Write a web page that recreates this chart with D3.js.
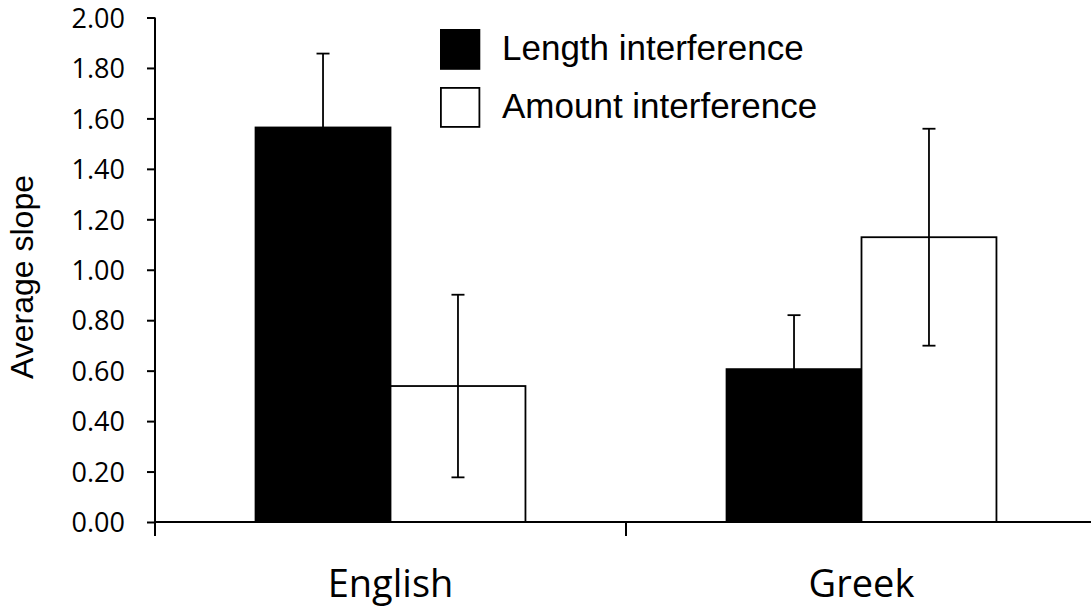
<!DOCTYPE html>
<head>
  <meta charset="utf-8">
  <title>Average slope</title>
</head>
<style>
  body { margin: 0; background: #fff; }
  svg { display: block; }
  .axis path, .axis line { stroke: #000; stroke-width: 2px; }
  .tick text { font-family: "Open Sans", sans-serif; fill: #000; }
  .legend text { font-family: "Liberation Sans", Arial, sans-serif; fill: #000; }
</style>
<body>
<svg id="chart" width="1091" height="607"></svg>
<script src="https://cdn.jsdelivr.net/npm/d3@7/dist/d3.min.js"></script>
<script>
  // data
  var languages = ["English", "Greek"];
  var series = ["Length interference", "Amount interference"];
  var lengthValues = [1.564, 0.606];
  var amountValues = [0.539, 1.129];
  var lengthErrors = [0.293, 0.214];
  var amountErrors = [0.362, 0.430];
  var yTicks = [0, 0.2, 0.4, 0.6, 0.8, 1.0, 1.2, 1.4, 1.6, 1.8, 2.0];
  var seriesFill = ["#000", "#fff"];

  var svg = d3.select("#chart");

  var rows = [];
  languages.forEach(function(lang, i) {
    rows.push({ lang: lang, key: series[0], value: lengthValues[i], err: lengthErrors[i] });
    rows.push({ lang: lang, key: series[1], value: amountValues[i], err: amountErrors[i] });
  });

  var y = d3.scaleLinear().domain([0, 2]).range([522, 17.5]);
  var x0 = d3.scaleBand().domain(languages).range([155, 1097]).paddingInner(0).paddingOuter(0);
  var x1 = d3.scaleBand().domain(series).range([0, x0.bandwidth()]).paddingInner(0).paddingOuter(0.745);
  var fill = d3.scaleOrdinal().domain(series).range(seriesFill);

  // bars
  svg.append("g").selectAll("rect")
    .data(rows)
    .enter().append("rect")
      .attr("x", d => x0(d.lang) + x1(d.key))
      .attr("y", d => y(d.value))
      .attr("width", x1.bandwidth())
      .attr("height", d => y(0) - y(d.value))
      .attr("fill", d => fill(d.key))
      .attr("stroke", "#000")
      .attr("stroke-width", 1.8);

  // error bars
  var eb = svg.append("g").selectAll("g")
    .data(rows)
    .enter().append("g")
      .attr("transform", d => "translate(" + (x0(d.lang) + x1(d.key) + x1.bandwidth() / 2) + ",0)");
  eb.append("line")
    .attr("y1", d => y(d.value - d.err))
    .attr("y2", d => y(d.value + d.err))
    .attr("stroke", "#000").attr("stroke-width", 1.8);
  eb.append("line")
    .attr("x1", -6.5).attr("x2", 6.5)
    .attr("y1", d => y(d.value + d.err)).attr("y2", d => y(d.value + d.err))
    .attr("stroke", "#000").attr("stroke-width", 1.8);
  eb.append("line")
    .attr("x1", -6.5).attr("x2", 6.5)
    .attr("y1", d => y(d.value - d.err)).attr("y2", d => y(d.value - d.err))
    .attr("stroke", "#000").attr("stroke-width", 1.8);

  // y axis
  var yAxis = svg.append("g")
    .attr("class", "axis")
    .attr("transform", "translate(155,0)")
    .call(d3.axisLeft(y).tickValues(yTicks).tickSize(8).tickSizeOuter(0).tickPadding(22).tickFormat(d3.format(".2f")));
  yAxis.select(".domain").remove();
  yAxis.selectAll(".tick text").attr("font-size", 27).attr("dy", "0.36em");
  yAxis.append("line").attr("x1", 0).attr("x2", 0).attr("y1", y(2)).attr("y2", 536);

  // x axis
  var xAxis = svg.append("g")
    .attr("class", "axis")
    .attr("transform", "translate(0,522)")
    .call(d3.axisBottom(x0).tickSize(0).tickSizeOuter(0));
  xAxis.select(".domain").remove();
  xAxis.append("line").attr("x1", 155).attr("x2", 1091).attr("y1", 0).attr("y2", 0);
  xAxis.selectAll(".tick text").attr("font-size", 38).attr("y", 75).attr("dy", 0);
  xAxis.selectAll(".bound")
    .data(languages.slice(1))
    .enter().append("line")
      .attr("class", "bound")
      .attr("x1", d => x0(d)).attr("x2", d => x0(d))
      .attr("y1", 0).attr("y2", 14);

  // y title
  svg.append("text")
    .attr("transform", "translate(33,277) rotate(-90)")
    .attr("text-anchor", "middle")
    .attr("font-family", "Liberation Sans, Arial, sans-serif")
    .attr("font-size", 32)
    .text("Average slope");

  // legend
  var legend = svg.append("g").attr("class", "legend")
    .selectAll("g")
    .data(series)
    .enter().append("g")
      .attr("transform", (d, i) => "translate(440," + (29 + i * 58) + ")");
  legend.append("rect")
    .attr("x", 0.9).attr("y", 0.9)
    .attr("width", 38.5).attr("height", 39)
    .attr("fill", d => fill(d))
    .attr("stroke", "#000").attr("stroke-width", 1.8);
  legend.append("text")
    .attr("x", 62).attr("y", 31)
    .attr("font-size", 35)
    .text(d => d);
</script>
</body>
